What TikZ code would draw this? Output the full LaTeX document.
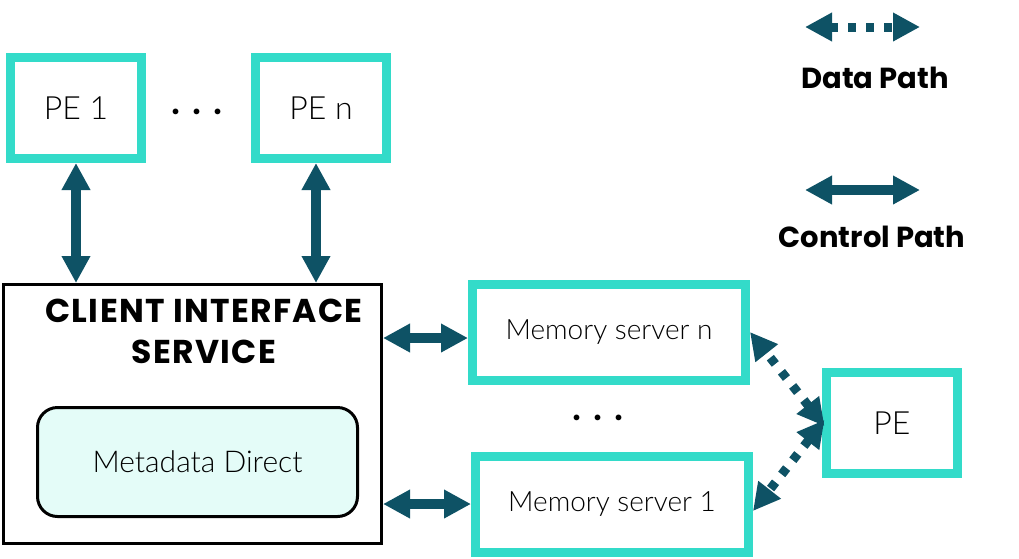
\documentclass[tikz,border=0pt]{standalone}
\usepackage{fontspec}
\setmainfont{Lato}[UprightFont=* Light, BoldFont=* Bold]
\newfontfamily\headfont{Poppins}
\newfontfamily\titlefont{Poppins}[LetterSpace=4]
\usetikzlibrary{arrows.meta}
\definecolor{boxteal}{RGB}{51,219,201}
\definecolor{pathteal}{RGB}{14,82,101}
\definecolor{metafill}{RGB}{228,252,248}

\begin{document}
\begin{tikzpicture}[x=1pt, y=-1pt,
	pebox/.style={draw=boxteal, line width=9pt, minimum width=131pt, minimum height=101pt, font=\fontsize{32}{38}\selectfont},
	msbox/.style={draw=boxteal, line width=9pt, minimum width=273pt, minimum height=96pt, font=\fontsize{28}{34}\selectfont},
	ctrl/.style={pathteal, line width=10pt, {Triangle[length=27pt,width=27pt]}-{Triangle[length=27pt,width=27pt]}},
	data/.style={pathteal, line width=9pt, dash pattern=on 8pt off 10pt, {Triangle[length=27pt,width=27pt]}-{Triangle[length=27pt,width=27pt]}},
	legend/.style={font=\headfont\bfseries\fontsize{29}{36}\selectfont},
	dots/.style={font=\bfseries\fontsize{38}{40}\selectfont}]
						\useasboundingbox (0,0) rectangle (1019,558);
						\node[pebox] (pe1) at (76,108) {PE 1};
						\node[pebox] (pen) at (321,108) {PE n};
						\node[dots] (pedots) at (197,112) {. . .};
						\node[draw, line width=3pt, minimum width=378pt, minimum height=259pt] (cis) at (192.5,414) {};
						\node[font=\titlefont\bfseries\fontsize{33}{41}\selectfont, align=center] (cistitle) at (204,331) {CLIENT INTERFACE\\SERVICE};
						\node[draw, line width=3pt, rounded corners=20pt, fill=metafill, minimum width=320pt, minimum height=109pt, font=\fontsize{30}{34}\selectfont] (meta) at (197.5,462) {Metadata Direct};
						\node[msbox] (msn) at (609,332) {Memory server n};
						\node[msbox] (ms1) at (612,504) {Memory server 1};
						\node[dots] (msdots) at (598,418) {. . .};
						\node[pebox] (pe) at (892,423) {PE};
						\draw[ctrl] (pe1.south) -- (pe1.south |- cis.north);
						\draw[ctrl] ([xshift=-5pt]pen.south) -- ([xshift=-5pt]pen.south |- cis.north);
						\draw[ctrl] (cis.east |- {(0,338)}) -- ([yshift=-6pt]msn.west);
						\draw[ctrl] (cis.east |- ms1.west) -- (ms1.west);
						\draw[data, shorten <=-4pt] (pe.west) -- (msn.east);
						\draw[data, shorten <=-4pt] (pe.west) -- ([yshift=-7pt]ms1.east);
						\coordinate (dataleft) at (805,27);
						\coordinate (dataright) at (920,27);
						\coordinate (ctrlleft) at (805,190);
						\coordinate (ctrlright) at (920,190);
						\draw[data] (dataleft) -- (dataright);
						\draw[ctrl] (ctrlleft) -- (ctrlright);
						\node[legend] (datalabel) at (875,78) {Data Path};
						\node[legend] (ctrllabel) at (872,237) {Control Path};
						\end{tikzpicture}
\end{document}
